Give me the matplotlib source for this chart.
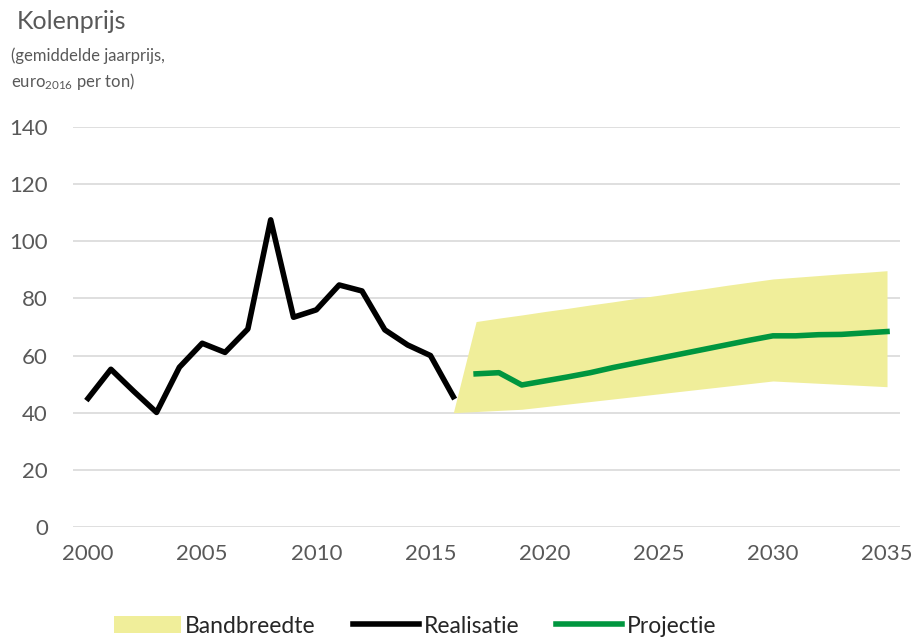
import numpy as np
import matplotlib
matplotlib.use("Agg")
import matplotlib.pyplot as plt
from matplotlib.patches import Patch
from matplotlib.lines import Line2D

plt.rcParams['font.family'] = ['Lato', 'DejaVu Sans']
plt.rcParams['mathtext.fontset'] = 'custom'
plt.rcParams['mathtext.rm'] = 'Lato'
plt.rcParams['mathtext.default'] = 'regular'

# Data
years_real = list(range(2000, 2017))
realisatie = [45.0, 55.2, 47.5, 40.1, 55.9, 64.3, 61.1, 69.3, 107.5, 73.4,
              76.0, 84.7, 82.6, 69.0, 63.7, 60.0, 45.6]

years_proj = list(range(2017, 2036))
projectie = [53.6, 54.0, 49.7, 51.1, 52.5, 54.0, 55.8, 57.4, 59.0, 60.6,
             62.2, 63.8, 65.4, 66.9, 66.9, 67.3, 67.4, 67.9, 68.4]

years_band = list(range(2016, 2036))
band_low = [40.0, 40.4, 40.8, 41.2, 42.1, 43.0, 43.9, 44.8, 45.7, 46.6,
            47.5, 48.4, 49.3, 50.2, 51.1, 50.7, 50.3, 49.9, 49.5, 49.1]
band_high = [40.0, 71.9, 73.1, 74.2, 75.4, 76.5, 77.7, 78.8, 80.0, 81.1,
             82.3, 83.4, 84.6, 85.7, 86.8, 87.4, 88.0, 88.6, 89.1, 89.7]

xticks = [2000, 2005, 2010, 2015, 2020, 2025, 2030, 2035]
yticks = [0, 20, 40, 60, 80, 100, 120, 140]

text_col = '#595959'
band_col = '#F0EE9A'
green = '#00963F'

fig = plt.figure(figsize=(9.17, 6.38), dpi=100)
ax = fig.add_axes([0.0796, 0.174, 0.9019, 0.627])

ax.fill_between(years_band, band_low, band_high, color=band_col, lw=0, zorder=1)
ax.plot(years_real, realisatie, color='black', lw=4, solid_joinstyle='round', zorder=3)
ax.plot(years_proj, projectie, color=green, lw=4, solid_joinstyle='round', zorder=3)

ax.set_xlim(1999.34, 2035.57)
ax.set_ylim(0, 140)
ax.set_xticks(xticks)
ax.set_yticks(yticks)
ax.yaxis.grid(True, color='#D9D9D9', lw=1.2, zorder=0)
ax.set_axisbelow(True)
for s in ax.spines.values():
    s.set_visible(False)
ax.tick_params(length=0, labelsize=16, colors=text_col, pad=12)
ax.tick_params(axis='y', pad=18)

fig.text(0.018, 0.955, 'Kolenprijs', fontsize=18, color=text_col, ha='left', va='baseline')
fig.text(0.012, 0.905, '(gemiddelde jaarprijs,', fontsize=12, color=text_col, ha='left', va='baseline')
fig.text(0.012, 0.863, 'euro$_{2016}$ per ton)', fontsize=12, color=text_col, ha='left', va='baseline')

handles = [Patch(facecolor=band_col, edgecolor='none'),
           Line2D([], [], color='black', lw=4),
           Line2D([], [], color=green, lw=4)]
fig.legend(handles, ['Bandbreedte', 'Realisatie', 'Projectie'],
           loc='lower center', bbox_to_anchor=(0.453, -0.03), ncol=3, frameon=False,
           fontsize=16.5, labelcolor='#262626', handlelength=2.9, handletextpad=0.2,
           columnspacing=1.6)

fig.savefig('out.png', dpi=100)
